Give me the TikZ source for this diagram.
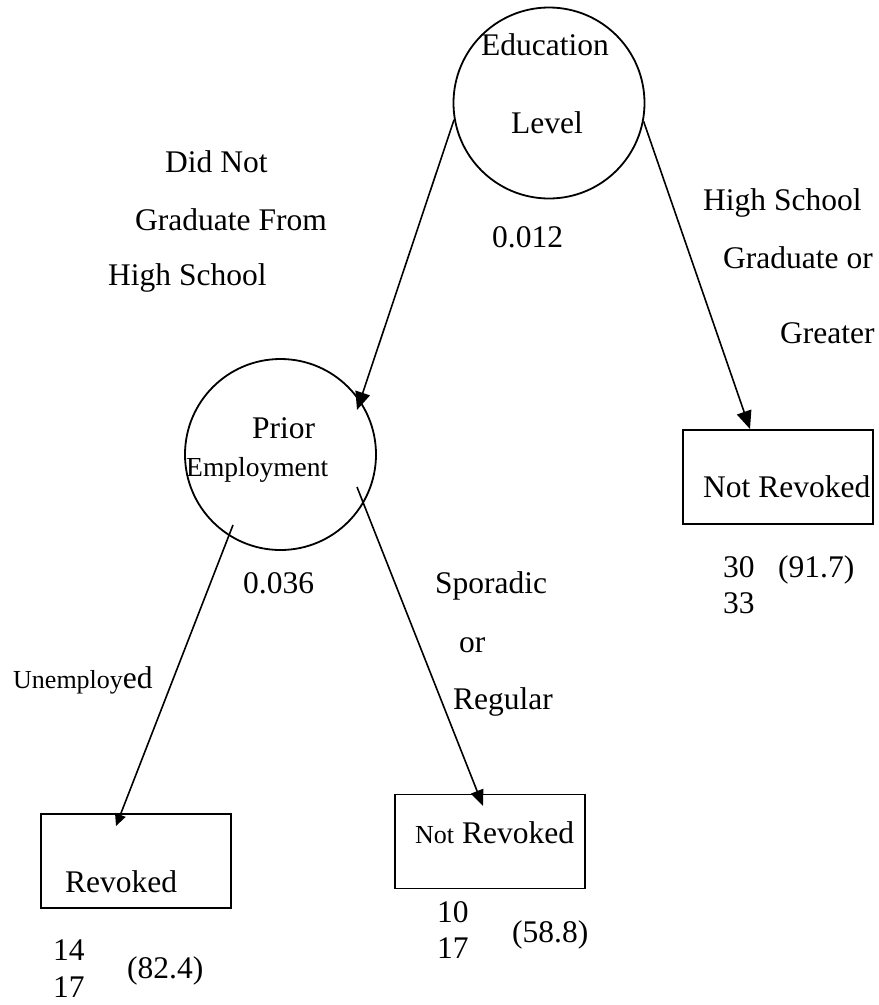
\documentclass[tikz,border=0pt]{standalone}
\usepackage{fontspec}
\setmainfont{Liberation Serif}
\usetikzlibrary{arrows.meta}
\begin{document}
\begin{tikzpicture}[x=1pt,y=-1pt,
  lbl/.style={inner sep=0pt, anchor=base west, font=\fontsize{31.5}{36}\selectfont},
  lblsmall/.style={lbl, font=\fontsize{27.5}{32}\selectfont},
  split/.style={draw, line width=1.8pt, circle, minimum size=191pt, inner sep=0pt},
  leaf/.style={draw, line width=1.9pt, rectangle, minimum width=190pt, minimum height=94pt, inner sep=0pt},
  branch/.style={line width=1.6pt, -{Triangle[length=18pt,width=15pt]}},
  branchsmall/.style={line width=1.6pt, -{Triangle[length=12pt,width=11pt]}},
  branchmid/.style={line width=1.6pt, -{Triangle[length=16pt,width=13pt]}},
]
\useasboundingbox (0,0) rectangle (879,1005);
\newcommand{\smallsize}{\fontsize{26}{30}\selectfont}

% decision nodes and leaves
\node[split] (edu) at (549,103) {};
\node[split] (prior) at (280.5,454.5) {};
\node[leaf] (leafR) at (778,477) {};
\node[leaf] (leafL) at (136,861) {};
\node[leaf] (leafM) at (490,841.5) {};

% connector end points
\coordinate (tipP) at (357,410);
\coordinate (tipR) at (750,429);
\coordinate (pL) at (233,525);
\coordinate (pR) at (357,487);
\coordinate (tipL) at (116,826);
\coordinate (tipM) at (483,806);

\draw[branch] (edu.190) -- (tipP);
\draw[branch] (edu.349) -- (tipR);
\draw[branchsmall] (pL) -- (tipL);
\draw[branchmid] (pR) -- (tipM);

% texts of the root
\node[lbl] (eduA) at (481,55) {Education};
\node[lbl] (eduB) at (511,133) {Level};
\node[lbl] (p1) at (492,247) {0.012};

% left branch label
\node[lbl] (l1) at (165,172) {Did Not};
\node[lbl] (l2) at (135,230) {Graduate From};
\node[lbl] (l3) at (108,285) {High School};

% right branch label
\node[lbl] (r1) at (703,210) {High School};
\node[lbl] (r2) at (723,268) {Graduate or};
\node[lbl] (r3) at (780,343) {Greater};

% right leaf
\node[lbl] (nr1) at (703,497) {Not Revoked};
\node[lbl] (c30) at (723,577) {30};
\node[lbl] (c33) at (723,613) {33};
\node[lbl] (pc1) at (778,577) {(91.7)};

% second split
\node[lbl] (pr1) at (252,438) {Prior};
\node[lblsmall] (pr2) at (186,476) {Employment};
\node[lbl] (p2) at (243,593) {0.036};

\node[lbl] (s1) at (435,593) {Sporadic};
\node[lbl] (s2) at (459,652) {or};
\node[lbl] (s3) at (453,709) {Regular};

\node[lbl] (u1) at (13,688) {{\smallsize Unemploy}ed};

% bottom-left leaf
\node[lbl] (rv) at (65,892) {Revoked};
\node[lbl] (c14) at (53,960) {14};
\node[lbl] (c17a) at (53,997) {17};
\node[lbl] (pc2) at (127,978) {(82.4)};

% bottom-middle leaf
\node[lbl] (nr2) at (415,843) {{\smallsize Not} Revoked};
\node[lbl] (c10) at (437,922) {10};
\node[lbl] (c17b) at (437,958) {17};
\node[lbl] (pc3) at (512,942) {(58.8)};
\end{tikzpicture}
\end{document}
